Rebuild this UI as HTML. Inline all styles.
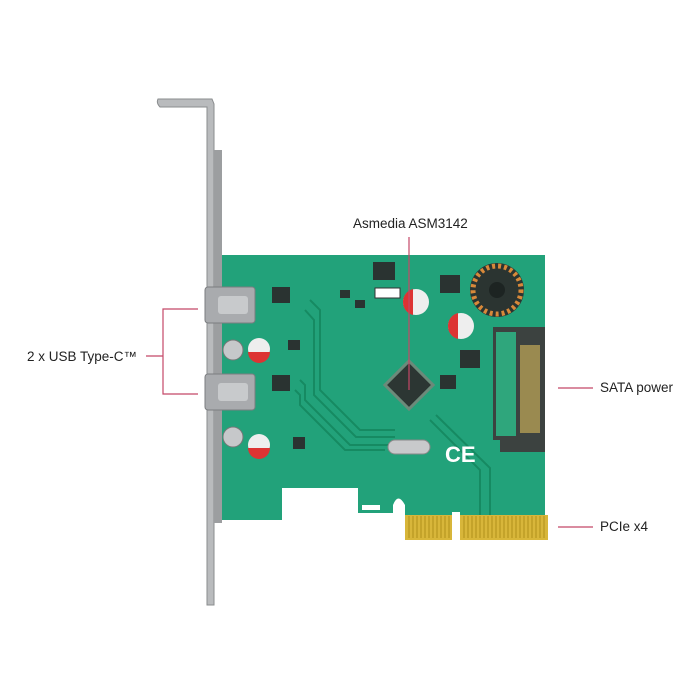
<!DOCTYPE html>
<html><head><meta charset="utf-8"><style>
html,body{margin:0;padding:0;background:#fff;width:700px;height:700px;overflow:hidden}
text{font-family:"Liberation Sans",sans-serif;font-size:13.5px;fill:#222}
</style></head><body>
<svg width="700" height="700" viewBox="0 0 700 700" xmlns="http://www.w3.org/2000/svg">
<rect width="700" height="700" fill="#fff"/>
<!-- bracket -->
<path d="M158 99 L212 99 L214 104 L214 605 L207 605 L207 107 L160 107 Q156 103 158 99Z" fill="#b9bbbd" stroke="#8a8c8e" stroke-width="1"/>
<rect x="214" y="150" width="8" height="373" fill="#9c9ea0"/>
<!-- PCB -->
<path d="M222 255 L545 255 L545 516 L460 516 L460 512 L452 512 L452 516 L405 516 L405 505 Q398 492 393 505 L393 513 L358 513 L358 488 L282 488 L282 520 L222 520Z" fill="#22a27a"/>
<!-- gold fingers -->
<rect x="405" y="515" width="47" height="25" fill="#d8b63a"/>
<rect x="460" y="515" width="88" height="25" fill="#d8b63a"/>
<g stroke="#b0901a" stroke-width="1">
<path d="M409 516v22M413 516v22M417 516v22M421 516v22M425 516v22M429 516v22M433 516v22M437 516v22M441 516v22M445 516v22M449 516v22"/>
<path d="M464 516v22M468 516v22M472 516v22M476 516v22M480 516v22M484 516v22M488 516v22M492 516v22M496 516v22M500 516v22M504 516v22M508 516v22M512 516v22M516 516v22M520 516v22M524 516v22M528 516v22M532 516v22M536 516v22M540 516v22M544 516v22"/>
</g>
<!-- traces -->
<g stroke="#168a62" stroke-width="2" fill="none">
<path d="M310 300 L320 310 L320 390 L360 430 L395 430"/>
<path d="M305 310 L314 320 L314 395 L356 437 L395 437"/>
<path d="M300 380 L305 385 L305 400 L350 445 L390 445"/>
<path d="M295 390 L300 395 L300 405 L345 450 L385 450"/>
<path d="M430 420 L480 470 L480 515"/>
<path d="M436 415 L490 468 L490 515"/>
</g>
<!-- USB-C ports -->
<rect x="205" y="287" width="50" height="36" rx="3" fill="#a9abae" stroke="#7b7d80"/>
<rect x="205" y="374" width="50" height="36" rx="3" fill="#a9abae" stroke="#7b7d80"/>
<rect x="218" y="296" width="30" height="18" rx="3" fill="#c8cacc"/>
<rect x="218" y="383" width="30" height="18" rx="3" fill="#c8cacc"/>
<!-- screws -->
<circle cx="233" cy="350" r="10" fill="#c6c8ca" stroke="#777"/>
<circle cx="233" cy="437" r="10" fill="#c6c8ca" stroke="#777"/>
<!-- caps -->
<circle cx="259" cy="349" r="11" fill="#eee"/><path d="M248 352 A11 11 0 0 0 270 352Z" fill="#d33"/>
<circle cx="259" cy="445" r="11" fill="#eee"/><path d="M248 448 A11 11 0 0 0 270 448Z" fill="#d33"/>
<circle cx="416" cy="302" r="13" fill="#eee"/><path d="M403 302 A13 13 0 0 0 413 315 L413 289 A13 13 0 0 0 403 302Z" fill="#d33"/>
<circle cx="461" cy="326" r="13" fill="#eee"/><path d="M448 326 A13 13 0 0 0 458 339 L458 313 A13 13 0 0 0 448 326Z" fill="#d33"/>
<!-- chips -->
<g fill="#2a3331">
<rect x="272" y="287" width="18" height="16"/><rect x="272" y="375" width="18" height="16"/>
<rect x="288" y="340" width="12" height="10"/><rect x="293" y="437" width="12" height="12"/>
<rect x="373" y="262" width="22" height="18"/><rect x="440" y="275" width="20" height="18"/>
<rect x="460" y="350" width="20" height="18"/><rect x="440" y="375" width="16" height="14"/>
<rect x="340" y="290" width="10" height="8"/><rect x="355" y="300" width="10" height="8"/>
</g>
<rect x="375" y="288" width="25" height="10" fill="#fff" stroke="#333"/>
<!-- main chip -->
<rect x="392" y="368" width="34" height="34" transform="rotate(45 409 385)" fill="#2c3633" stroke="#6c8a7a" stroke-width="3"/>
<!-- crystal -->
<rect x="388" y="440" width="42" height="14" rx="7" fill="#c8c9cb" stroke="#888"/>
<!-- CE -->
<text x="445" y="462" style="font-size:22px;fill:#fff;font-weight:bold">CE</text>
<!-- coil -->
<circle cx="497" cy="290" r="27" fill="#2b3431"/>
<circle cx="497" cy="290" r="24" fill="none" stroke="#d8893a" stroke-width="5" stroke-dasharray="3 3"/>
<circle cx="497" cy="290" r="8" fill="#1d2422"/>
<!-- SATA connector -->
<path d="M493 327 L545 327 L545 452 L500 452 L500 440 L493 440Z" fill="#3c4240"/>
<rect x="520" y="345" width="20" height="88" fill="#9a8a50"/>
<rect x="496" y="332" width="20" height="104" fill="#2fa67c"/>
<!-- weee -->
<rect x="362" y="505" width="18" height="5" fill="#fff"/>
<!-- red leader lines -->
<g stroke="#c44868" stroke-width="1.2" fill="none">
<path d="M198 309 L163 309 L163 394 L198 394 M163 356 L146 356"/>
<path d="M409 237 L409 390"/>
<path d="M558 388 L593 388"/>
<path d="M558 527 L593 527"/>
</g>
<text x="353" y="228">Asmedia ASM3142</text>
<text x="27" y="361">2 x  USB Type-C™</text>
<text x="600" y="392">SATA power</text>
<text x="600" y="531">PCIe x4</text>
</svg>
</body></html>
